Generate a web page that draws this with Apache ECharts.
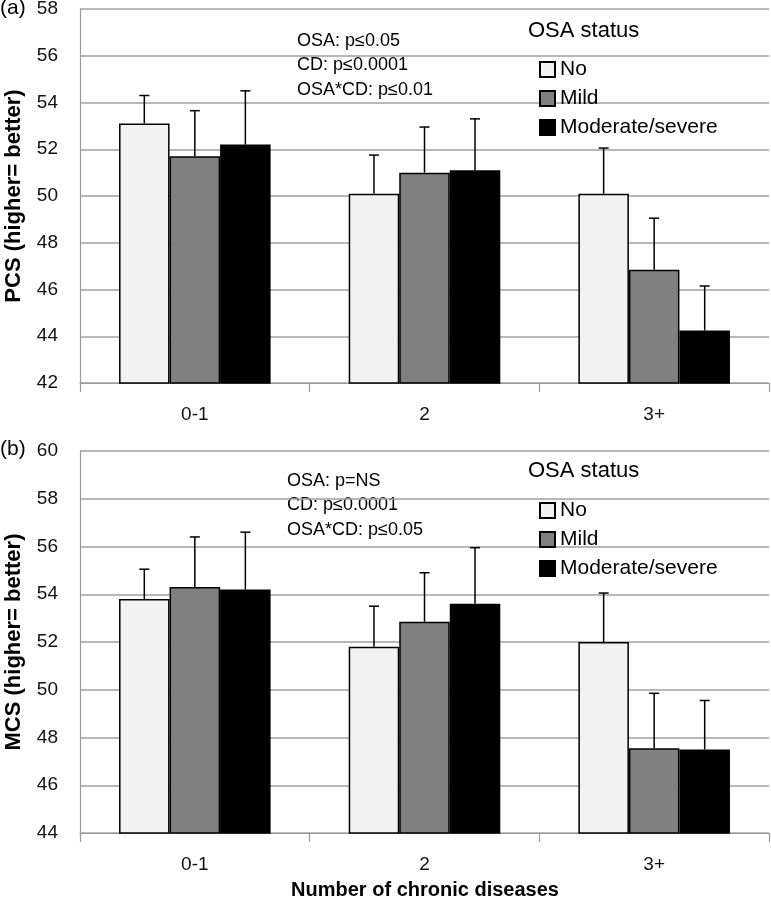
<!DOCTYPE html>
<html>
<head>
<meta charset="utf-8">
<script src="https://cdn.jsdelivr.net/npm/echarts@6/dist/echarts.min.js"></script>
<style>
html,body{margin:0;padding:0;background:#fff;}
#chart{width:771px;height:899px;}
</style>
</head>
<body>
<div id="chart"></div>
<script>
const categories = ['0-1', '2', '3+'];
const groups = ['No', 'Mild', 'Moderate/severe'];

// PCS panel (a): means and upper error limits
const pcsNo = [53.1, 50.1, 50.1];
const pcsMild = [51.7, 51.0, 46.85];
const pcsMod = [52.2, 51.1, 44.25];
const pcsNoUp = [54.3, 51.75, 52.05];
const pcsMildUp = [53.65, 52.95, 49.05];
const pcsModUp = [54.5, 53.3, 46.15];

// MCS panel (b)
const mcsNo = [53.8, 51.8, 52.0];
const mcsMild = [54.3, 52.85, 47.55];
const mcsMod = [54.2, 53.6, 47.5];
const mcsNoUp = [55.05, 53.5, 54.05];
const mcsMildUp = [56.4, 54.9, 49.85];
const mcsModUp = [56.6, 55.95, 49.55];

const pcsTicks = {min: 42, max: 58, interval: 2};
const mcsTicks = {min: 44, max: 60, interval: 2};

const pcsStats = ['OSA: p\u22640.05', 'CD: p\u22640.0001', 'OSA*CD: p\u22640.01'];
const mcsStats = ['OSA: p=NS', 'CD: p\u22640.0001', 'OSA*CD: p\u22640.05'];

const FONT = 'Liberation Sans';
const fills = ['#f2f2f2', '#808080', '#000000'];
const CAT_GAP = 0.34;

const chart = echarts.init(document.getElementById('chart'), null, {renderer: 'canvas'});

function errData(means, ups) {
  const out = [];
  means.forEach((m, g) => {
    m.forEach((v, c) => out.push([c, v, ups[g][c], g]));
  });
  return out;
}

function renderErr(params, api) {
  const c = api.value(0), mean = api.value(1), up = api.value(2), g = api.value(3);
  const p0 = api.coord([c, mean]);
  const p1 = api.coord([c, up]);
  const catW = api.size([1, 0])[0];
  const barW = catW * (1 - CAT_GAP) / 3;
  const x = p0[0] + (g - 1) * barW;
  const half = 5;
  const st = {stroke: '#000', lineWidth: 1.5};
  return {
    type: 'group',
    children: [
      {type: 'line', shape: {x1: x, y1: p0[1], x2: x, y2: p1[1]}, style: st},
      {type: 'line', shape: {x1: x - half, y1: p1[1], x2: x + half, y2: p1[1]}, style: st}
    ]
  };
}

function xAxisCfg(gi) {
  return {
    type: 'category', gridIndex: gi, data: categories,
    axisLine: {lineStyle: {color: '#9a9a9a', width: 1.2}},
    axisTick: {show: true, length: 9, lineStyle: {color: '#9a9a9a', width: 1.2}},
    axisLabel: {color: '#111', fontFamily: FONT, fontSize: 19, margin: 22}
  };
}
function yAxisCfg(gi, t, name) {
  return {
    type: 'value', gridIndex: gi, min: t.min, max: t.max, interval: t.interval,
    name: name, nameLocation: 'middle', nameGap: 55, nameRotate: 90,
    nameTextStyle: {fontFamily: FONT, fontWeight: 'bold', fontSize: 22, color: '#000'},
    axisLine: {show: true, lineStyle: {color: '#9a9a9a', width: 1.2}},
    axisTick: {show: false},
    axisLabel: {color: '#111', fontFamily: FONT, fontSize: 19, margin: 22},
    splitLine: {show: true, lineStyle: {color: '#a0a0a0', width: 1.5}}
  };
}

const series = [];
function addPanel(gi, means, ups) {
  means.forEach((m, g) => {
    series.push({
      type: 'bar', name: groups[g], xAxisIndex: gi, yAxisIndex: gi, data: m,
      barGap: '0%', barCategoryGap: (CAT_GAP * 100) + '%',
      itemStyle: {color: fills[g], borderColor: '#000', borderWidth: 1.5},
      emphasis: {disabled: true}, animation: false
    });
  });
  series.push({
    type: 'custom', xAxisIndex: gi, yAxisIndex: gi, renderItem: renderErr,
    data: errData(means, ups), encode: {x: 0, y: [1, 2]}, z: 5, animation: false
  });
}
addPanel(0, [pcsNo, pcsMild, pcsMod], [pcsNoUp, pcsMildUp, pcsModUp]);
addPanel(1, [mcsNo, mcsMild, mcsMod], [mcsNoUp, mcsMildUp, mcsModUp]);

function legendCfg(top) {
  return {
    data: groups, orient: 'vertical', left: 534, top: top,
    itemWidth: 15, itemHeight: 15, itemGap: 8, icon: 'rect',
    selectedMode: false,
    textStyle: {fontFamily: FONT, fontSize: 21, color: '#000', lineHeight: 21}
  };
}

function statText(lines, x, y0) {
  return lines.map((s, i) => ({
    type: 'text', left: x, top: y0 + i * 24.5,
    style: {text: s, fontFamily: FONT, fontSize: 18, fill: '#000'}
  }));
}

const graphics = [
  {type: 'text', left: 0, top: -2, style: {text: '(a)', fontFamily: FONT, fontSize: 21, fill: '#000'}},
  {type: 'text', left: 0, top: 439, style: {text: '(b)', fontFamily: FONT, fontSize: 21, fill: '#000'}},
  {type: 'text', left: 528, top: 20, style: {text: 'OSA status', fontFamily: FONT, fontSize: 22, fill: '#000'}},
  {type: 'text', left: 528, top: 460, style: {text: 'OSA status', fontFamily: FONT, fontSize: 22, fill: '#000'}},
  {type: 'text', x: 425, y: 890, style: {text: 'Number of chronic diseases', fontFamily: FONT, fontSize: 20, fontWeight: 'bold', fill: '#000', align: 'center', verticalAlign: 'middle'}}
].concat(statText(pcsStats, 297, 32)).concat(statText(mcsStats, 287, 472));

chart.setOption({
  animation: false,
  backgroundColor: '#fff',
  grid: [
    {left: 80, right: 2, top: 9, height: 374, outerBoundsMode: 'none', containLabel: false},
    {left: 80, right: 2, top: 451, height: 382, outerBoundsMode: 'none', containLabel: false}
  ],
  xAxis: [xAxisCfg(0), xAxisCfg(1)],
  yAxis: [yAxisCfg(0, pcsTicks, 'PCS (higher= better)'), yAxisCfg(1, mcsTicks, 'MCS (higher= better)')],
  legend: [legendCfg(54), legendCfg(495)],
  graphic: graphics,
  series: series
});
</script>
</body>
</html>
